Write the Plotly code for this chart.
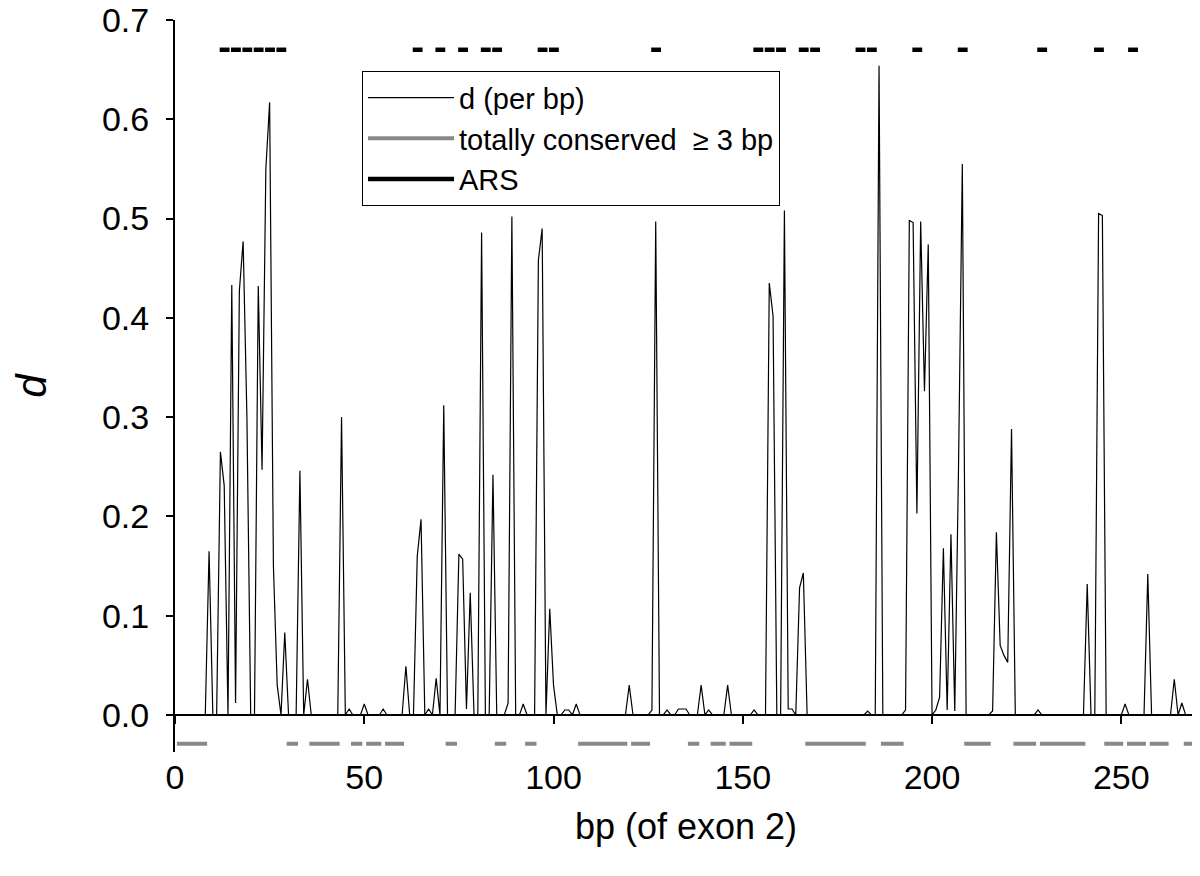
import plotly.graph_objects as go

# d per bp (flanking zeros included so the polyline keeps its shape)
d_bp = [0, 8, 9, 10, 11, 12, 13, 14, 15, 16, 17, 18, 19, 20, 21, 22, 23, 24, 25, 26, 27, 28,
        29, 30, 32, 33, 34, 35, 36, 43, 44, 45, 46, 47, 49, 50, 51, 54, 55, 56, 60, 61, 62,
        63, 64, 65, 66, 67, 68, 69, 70, 71, 72, 74, 75, 76, 77, 78, 79, 80, 81, 82, 83, 84,
        85, 87, 88, 89, 90, 91, 92, 93, 95, 96, 97, 98, 99, 100, 101, 102, 103, 104, 105,
        106, 107, 119, 120, 121, 125, 126, 127, 128, 129, 130, 131, 132, 133, 134, 135, 136,
        138, 139, 140, 141, 142, 145, 146, 147, 152, 153, 154, 156, 157, 158, 159, 160, 161,
        162, 163, 164, 165, 166, 167, 182, 183, 184, 185, 186, 187, 192, 193, 194, 195, 196,
        197, 198, 199, 200, 201, 202, 203, 204, 205, 206, 207, 208, 209, 215, 216, 217, 218,
        219, 220, 221, 222, 227, 228, 229, 240, 241, 242, 243, 244, 245, 246, 250, 251, 252,
        256, 257, 258, 263, 264, 265, 266, 267, 270]
d_val = [0, 0, 0.165, 0, 0, 0.265, 0.231, 0, 0.433, 0.012, 0.427, 0.477, 0.30, 0, 0, 0.432,
         0.247, 0.55, 0.617, 0.15, 0.03, 0, 0.083, 0, 0, 0.246, 0, 0.036, 0, 0, 0.300, 0,
         0.006, 0, 0, 0.011, 0, 0, 0.006, 0, 0, 0.049, 0, 0, 0.16, 0.197, 0, 0.006, 0, 0.037,
         0, 0.312, 0, 0, 0.162, 0.157, 0.006, 0.123, 0, 0, 0.486, 0, 0, 0.242, 0, 0, 0.012,
         0.502, 0, 0, 0.011, 0, 0, 0.458, 0.49, 0, 0.107, 0.03, 0, 0, 0.005, 0.005, 0, 0.011,
         0, 0, 0.03, 0, 0, 0.005, 0.497, 0, 0, 0.005, 0, 0, 0.006, 0.006, 0.006, 0, 0, 0.03,
         0, 0.005, 0, 0, 0.03, 0, 0, 0.005, 0, 0, 0.435, 0.402, 0, 0, 0.508, 0.006, 0.006, 0,
         0.128, 0.143, 0, 0, 0.004, 0, 0, 0.654, 0, 0, 0.005, 0.498, 0.496, 0.203, 0.497,
         0.326, 0.474, 0, 0.005, 0.018, 0.168, 0.005, 0.182, 0.004, 0.25, 0.555, 0, 0, 0.004,
         0.184, 0.07, 0.06, 0.053, 0.288, 0, 0, 0.005, 0, 0, 0.132, 0, 0, 0.505, 0.503, 0, 0,
         0.011, 0, 0, 0.142, 0, 0, 0.036, 0, 0.012, 0, 0]

# totally conserved stretches (>= 3 bp), first and last bp
cons_start = [1, 30, 36, 47, 51, 56, 72, 85, 93, 107, 121, 136, 142, 147, 167, 187, 209,
              222, 229, 246, 252, 258, 267]
cons_end = [8, 32, 43, 49, 54, 60, 74, 87, 95, 119, 125, 138, 145, 152, 182, 192, 215,
            227, 240, 250, 256, 262, 270]

# ARS codons
ars_codons = [5, 6, 7, 8, 9, 10, 22, 24, 26, 28, 29, 33, 34, 43, 52, 53, 54, 56, 57, 61,
              62, 66, 70, 77, 82, 85]

ARS_LEVEL = 0.67
CONS_LEVEL = -0.029
FONT = "Liberation Sans, Arial, sans-serif"

cons_x, cons_y = [], []
for s, e in zip(cons_start, cons_end):
    cons_x += [s - 0.5, e + 0.5, None]
    cons_y += [CONS_LEVEL, CONS_LEVEL, None]

ars_x, ars_y = [], []
for c in ars_codons:
    ars_x += [3 * c - 3.2, 3 * c - 0.6, None]
    ars_y += [ARS_LEVEL, ARS_LEVEL, None]

fig = go.Figure()
fig.add_trace(go.Scatter(x=d_bp, y=d_val, mode="lines", name="d (per bp)",
                         line={"color": "black", "width": 1.2}))
fig.add_trace(go.Scatter(x=cons_x, y=cons_y, mode="lines",
                         name="totally conserved  \u2265 3 bp",
                         line={"color": "#888888", "width": 4}))
fig.add_trace(go.Scatter(x=ars_x, y=ars_y, mode="lines", name="ARS",
                         line={"color": "black", "width": 4.5}))

ymin, ymax = -0.0373, 0.7
fig.update_layout(
    width=1200, height=876,
    paper_bgcolor="white", plot_bgcolor="white",
    # page body adds an 8px offset, so margins are shifted to compensate
    margin={"l": 167, "r": 11, "t": 12, "b": 132},
    font={"family": FONT, "color": "black", "size": 34},
    showlegend=True,
    legend={"x": 0.183, "y": 0.93, "xanchor": "left", "yanchor": "top",
            "bordercolor": "black", "borderwidth": 1, "bgcolor": "white",
            "font": {"size": 29}, "itemwidth": 86, "tracegroupgap": 0},
    xaxis={"range": [0, 270], "anchor": "free", "position": (0 - ymin) / (ymax - ymin),
           "showline": True, "linecolor": "black", "linewidth": 2,
           "ticks": "outside", "ticklen": 8, "tickwidth": 2, "tickcolor": "black",
           "tickvals": [0, 50, 100, 150, 200, 250], "ticklabelstandoff": 24,
           "ticklabeloverflow": "allow",
           "showgrid": False, "zeroline": False, "automargin": False,
           "title": {"text": "bp (of exon 2)", "font": {"size": 36}, "standoff": 18}},
    yaxis={"range": [ymin, ymax], "showline": True, "linecolor": "black", "linewidth": 2,
           "ticks": "outside", "ticklen": 7, "tickwidth": 2, "tickcolor": "black",
           "tickvals": [0, 0.1, 0.2, 0.3, 0.4, 0.5, 0.6, 0.7], "tickformat": ".1f",
           "ticklabelstandoff": 10, "ticklabeloverflow": "allow",
           "showgrid": False, "zeroline": False, "automargin": False,
           "title": {"text": "<i>d</i>", "font": {"size": 42}, "standoff": 52}},
)

fig.write_html("out.html")
